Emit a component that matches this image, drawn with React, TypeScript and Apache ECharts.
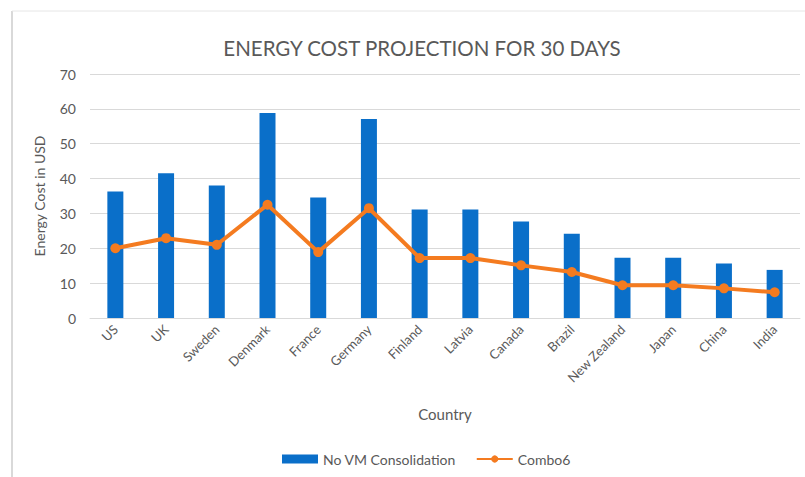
import React, { useEffect, useRef } from "react";
import * as echarts from "echarts";

const countries = ["US", "UK", "Sweden", "Denmark", "France", "Germany", "Finland", "Latvia", "Canada", "Brazil", "New Zealand", "Japan", "China", "India"];
const noVmConsolidation = [36.3, 41.5, 38.0, 58.8, 34.6, 57.1, 31.1, 31.1, 27.7, 24.2, 17.3, 17.3, 15.6, 13.8];
const combo6 = [20.0, 22.9, 21.0, 32.5, 18.9, 31.5, 17.2, 17.2, 15.1, 13.2, 9.4, 9.4, 8.5, 7.4];
const yTicks = { min: 0, max: 70, interval: 10 };

export default function App() {
  const ref = useRef<HTMLDivElement>(null);
  useEffect(() => {
    if (!ref.current) return;
    const chart = echarts.init(ref.current, undefined, { renderer: "svg" });
    const font = "Lato, 'Open Sans', sans-serif";
    const gray = "#595959";
    chart.setOption({
      animation: false,
      backgroundColor: "#ffffff",
      textStyle: { fontFamily: font },
      title: {
        text: "ENERGY COST PROJECTION FOR 30 DAYS",
        left: 417,
        textAlign: "center",
        top: 32,
        textStyle: { fontFamily: font, fontSize: 20.5, fontWeight: "normal", color: gray },
      },
      graphic: [
        { type: "line", shape: { x1: 12, y1: 11, x2: 12, y2: 477 }, style: { stroke: "#d9d9d9", lineWidth: 2 } },
        { type: "line", shape: { x1: 12, y1: 11, x2: 805, y2: 11 }, style: { stroke: "#e6e6e6", lineWidth: 1 } },
      ],
      legend: {
        bottom: 6,
        left: 277,
        itemGap: 20,
        itemWidth: 36,
        itemHeight: 9,
        textStyle: { fontFamily: font, fontSize: 14, color: gray },
        data: [
          { name: "No VM Consolidation", icon: "rect" },
          { name: "Combo6" },
        ],
      },
      grid: { left: 90, right: 5, top: 74, bottom: 159 },
      xAxis: {
        type: "category",
        data: countries,
        name: "Country",
        nameLocation: "middle",
        nameGap: 88,
        nameTextStyle: { fontFamily: font, fontSize: 15, color: gray },
        axisTick: { show: false },
        axisLine: { lineStyle: { color: "#d9d9d9", width: 1 } },
        axisLabel: { rotate: 45, fontSize: 13, color: gray, margin: 9, interval: 0 },
      },
      yAxis: {
        type: "value",
        min: yTicks.min,
        max: yTicks.max,
        interval: yTicks.interval,
        name: "Energy Cost in USD",
        nameLocation: "middle",
        nameGap: 44,
        nameTextStyle: { fontFamily: font, fontSize: 14, color: gray },
        axisLabel: { fontSize: 14, color: gray, margin: 14 },
        splitLine: { lineStyle: { color: "#d9d9d9", width: 1 } },
        axisLine: { show: false },
        axisTick: { show: false },
      },
      series: [
        {
          name: "No VM Consolidation",
          type: "bar",
          data: noVmConsolidation,
          barWidth: 16,
          itemStyle: { color: "#0A6FC9" },
        },
        {
          name: "Combo6",
          type: "line",
          data: combo6,
          symbol: "circle",
          symbolSize: 10,
          lineStyle: { color: "#F47B20", width: 4 },
          itemStyle: { color: "#F47B20" },
        },
      ],
    });
    return () => chart.dispose();
  }, []);
  return <div ref={ref} style={{ position: "absolute", left: 0, top: 0, width: 805, height: 477 }} />;
}
